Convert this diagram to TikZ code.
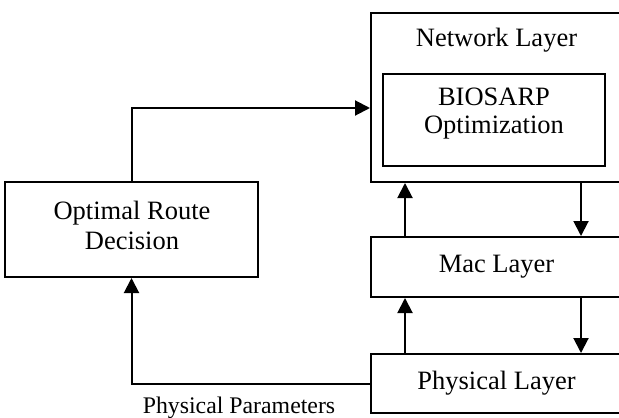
\documentclass[tikz,border=0pt]{standalone}
\usepackage{fontspec}
\setmainfont{Liberation Serif}
\usetikzlibrary{arrows.meta}
\begin{document}
\begin{tikzpicture}[x=0.5pt,y=-0.5pt,
  box/.style={draw,line width=1pt,rectangle,inner sep=0pt,align=center,
    font=\fontsize{13.25}{15}\selectfont},
  txt/.style={inner sep=0pt,align=center,font=\fontsize{13.25}{14}\selectfont},
  arr/.style={line width=1pt,-{Triangle[length=7.5pt,width=7.5pt]}}]
\useasboundingbox (0,0) rectangle (619,417);
\clip (0,0) rectangle (619,417);
% protocol stack on the right (boxes run past the right edge)
\node[box,minimum width=125.5pt,minimum height=84.5pt] (net) at (496.5,97.5) {};
\node[txt] (netlbl) at (496.5,40) {Network Layer};
\node[box,minimum width=111pt,minimum height=46pt] (bio) at (494,120) {};
\node[txt] (biotxt) at (494,114) {BIOSARP\\Optimization};
\node[box,minimum width=125.5pt,minimum height=30pt] (mac) at (496.5,267) {Mac Layer};
\node[box,minimum width=125.5pt,minimum height=29.5pt] (phy) at (496.5,383.5) {Physical Layer};
% decision block on the left
\node[box,minimum width=126.5pt,minimum height=47.5pt] (ord) at (131.5,229.5) {};
\node[txt,font=\fontsize{13.25}{15}\selectfont] (ordtxt) at (132,225) {Optimal Route\\Decision};
\node[inner sep=0pt,anchor=base,font=\fontsize{11.9}{13}\selectfont] (pp) at (239,413) {Physical Parameters};
% links between the layers
\draw[arr] ([xshift=17.5pt]phy.north west) -- ([xshift=17.5pt]mac.south west);
\draw[arr] ([xshift=17.5pt]mac.north west) -- ([xshift=17.5pt]net.south west);
\draw[arr] ([xshift=105.5pt]net.south west) -- ([xshift=105.5pt]mac.north west);
\draw[arr] ([xshift=105.5pt]mac.south west) -- ([xshift=105.5pt]phy.north west);
% feedback loop through the route decision
\path (net.west) ++(0,10.5) coordinate (netin);
\draw[arr] (phy.west) -| (ord.south);
\draw[arr] (ord.north) |- (netin);
\end{tikzpicture}
\end{document}
